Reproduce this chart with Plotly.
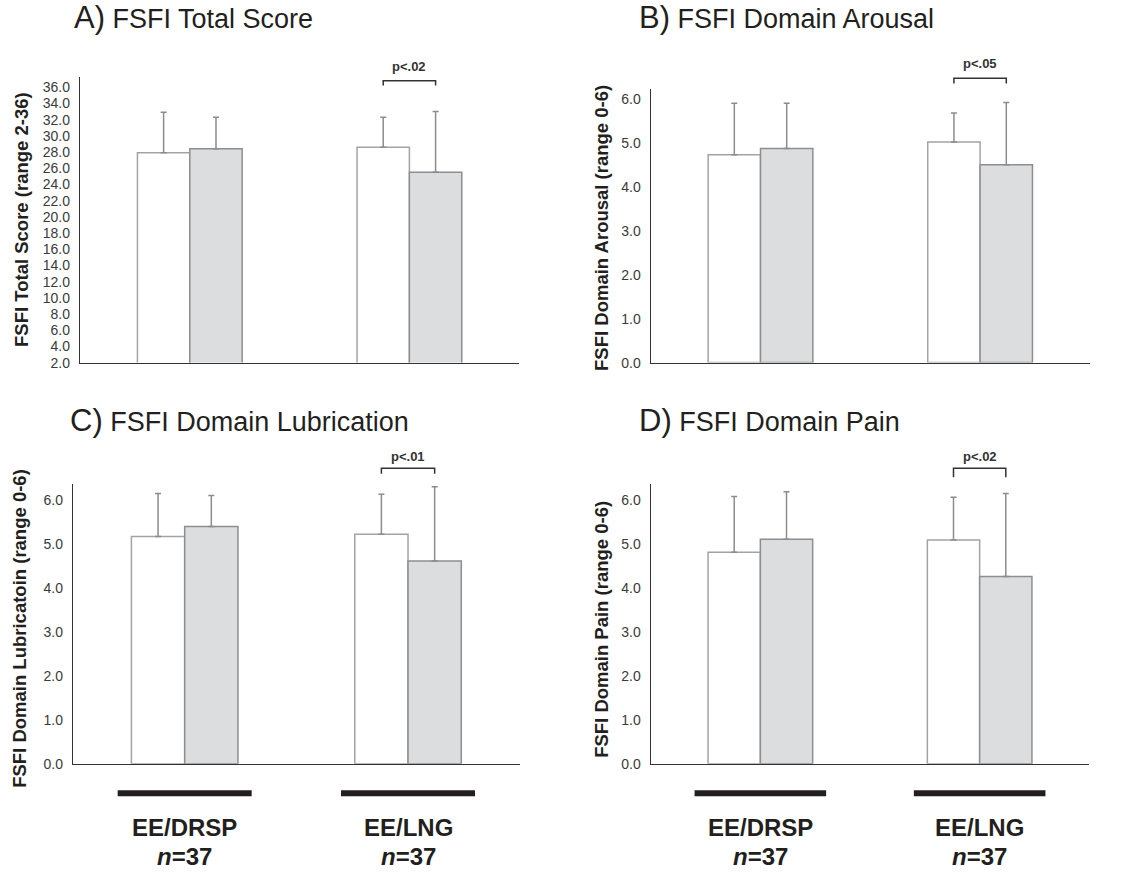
import plotly.graph_objects as go

W, H = 1130, 873

# ---------------- data ----------------
groups = ["EE/DRSP", "EE/LNG"]
group_n = ["37", "37"]

total_first = [27.9, 28.6]
total_second = [28.4, 25.5]
total_first_sd = [5.0, 3.7]
total_second_sd = [3.9, 7.5]

arousal_first = [4.74, 5.03]
arousal_second = [4.88, 4.51]
arousal_first_sd = [1.17, 0.66]
arousal_second_sd = [1.03, 1.42]

lubric_first = [5.17, 5.22]
lubric_second = [5.40, 4.61]
lubric_first_sd = [0.98, 0.91]
lubric_second_sd = [0.70, 1.69]

pain_first = [4.81, 5.09]
pain_second = [5.11, 4.26]
pain_first_sd = [1.27, 0.97]
pain_second_sd = [1.08, 1.89]

titles_letter = ["A)", "B)", "C)", "D)"]
titles_text = ["FSFI Total Score", "FSFI Domain Arousal",
               "FSFI Domain Lubrication", "FSFI Domain Pain"]
ytitles = ["FSFI Total Score (range 2-36)", "FSFI Domain Arousal (range 0-6)",
           "FSFI Domain Lubricatoin (range 0-6)", "FSFI Domain Pain (range 0-6)"]
pvalues = ["p<.02", "p<.05", "p<.01", "p<.02"]

total_ticks = list(range(2, 37, 2))
domain_ticks = [0, 1, 2, 3, 4, 5, 6]

# ---------------- layout geometry ----------------
FONT = "Liberation Sans, Arial, Helvetica, sans-serif"
TXT = "#231f20"
BARGAP = 0.523
YS = 1.009

def px_x(p):
    return p / W

def px_y(p):
    return 1 - p * YS / H

panels = [
    dict(data=(total_first, total_second, total_first_sd, total_second_sd),
         xd=(80, 519.2), yd=(76.7, 362.7), yr=(2, 37.3), ticks=total_ticks,
         title_xy=(72, 37), ytitle_xy=(22, 220), bracket_y=(36.2, 36.8), ptxt=38.6),
    dict(data=(arousal_first, arousal_second, arousal_first_sd, arousal_second_sd),
         xd=(650.7, 1089.9), yd=(89.3, 362.7), yr=(0, 6.23), ticks=domain_ticks,
         title_xy=(637, 37), ytitle_xy=(602, 228), bracket_y=(6.36, 6.48), ptxt=6.82),
    dict(data=(lubric_first, lubric_second, lubric_first_sd, lubric_second_sd),
         xd=(73, 519.7), yd=(484.3, 764), yr=(0, 6.36), ticks=domain_ticks,
         title_xy=(68, 440), ytitle_xy=(20, 629), bracket_y=(6.6, 6.72), ptxt=7.0),
    dict(data=(pain_first, pain_second, pain_first_sd, pain_second_sd),
         xd=(650.7, 1089.3), yd=(484.3, 764), yr=(0, 6.36), ticks=domain_ticks,
         title_xy=(637, 440), ytitle_xy=(602, 630), bracket_y=(6.52, 6.72), ptxt=6.98),
]

fig = go.Figure()
shapes = []
annotations = []

XR = (-0.5, 1.5)

for i, p in enumerate(panels):
    k = "" if i == 0 else str(i + 1)
    xa, ya = "x" + k, "y" + k
    first, second, sd1, sd2 = p["data"]
    fig.add_trace(go.Bar(
        x=[0, 1], y=first, xaxis=xa, yaxis=ya, showlegend=False,
        marker=dict(color="white", line=dict(color="#a3a3a3", width=1.5)),
        error_y=dict(type="data", array=sd1, arrayminus=[0, 0], symmetric=False,
                     color="#8c8c8c", thickness=1.5, width=3),
    ))
    fig.add_trace(go.Bar(
        x=[0, 1], y=second, xaxis=xa, yaxis=ya, showlegend=False,
        marker=dict(color="#dcdddf", line=dict(color="#8e8e8e", width=1.5)),
        error_y=dict(type="data", array=sd2, arrayminus=[0, 0], symmetric=False,
                     color="#8c8c8c", thickness=1.5, width=3),
    ))
    xd = [px_x(v) for v in p["xd"]]
    yd = [px_y(p["yd"][1]), px_y(p["yd"][0])]
    fig.layout["xaxis" + k] = dict(
        domain=xd, range=list(XR), anchor=ya, showticklabels=False, ticks="",
        showgrid=False, zeroline=False, showline=True, linecolor="#333333",
        linewidth=1.3, fixedrange=True)
    fig.layout["yaxis" + k] = dict(
        domain=yd, range=list(p["yr"]), anchor=xa, tickvals=p["ticks"],
        tickformat=".1f", ticks="", showgrid=False, zeroline=False,
        showline=True, linecolor="#333333", linewidth=1.3,
        tickfont=dict(family=FONT, size=14, color="#3a3a3a"),
        ticklabelstandoff=6, fixedrange=True)

    # data -> paper helpers for this panel
    def xp(v, xd=xd):
        return xd[0] + (v - XR[0]) / (XR[1] - XR[0]) * (xd[1] - xd[0])

    def yp(v, yd=yd, yr=p["yr"]):
        return yd[0] + (v - yr[0]) / (yr[1] - yr[0]) * (yd[1] - yd[0])

    bar_w = (1 - BARGAP) / 2
    c_left = 1 - bar_w / 2
    c_right = 1 + bar_w / 2
    y_lo, y_hi = p["bracket_y"]
    shapes.append(dict(
        type="path", xref="paper", yref="paper",
        path=f"M {xp(c_left)},{yp(y_lo)} L {xp(c_left)},{yp(y_hi)} "
             f"L {xp(c_right)},{yp(y_hi)} L {xp(c_right)},{yp(y_lo)}",
        line=dict(color="#333333", width=1.5)))
    annotations.append(dict(
        x=xp(1), y=yp(p["ptxt"]), xref="paper", yref="paper", text=f"<b>{pvalues[i]}</b>",
        showarrow=False, font=dict(family=FONT, size=13, color="#333333"),
        xanchor="center", yanchor="middle"))

    # panel title
    tx, ty = p["title_xy"]
    annotations.append(dict(
        x=px_x(tx), y=px_y(ty), xref="paper", yref="paper",
        text=f"<span style='font-size:31px'>{titles_letter[i]}</span> {titles_text[i]}",
        showarrow=False, font=dict(family=FONT, size=27, color=TXT),
        xanchor="left", yanchor="bottom"))

    # y title
    yx, yy = p["ytitle_xy"]
    annotations.append(dict(
        x=px_x(yx), y=px_y(yy), xref="paper", yref="paper",
        text=f"<b>{ytitles[i]}</b>", textangle=-90, showarrow=False,
        font=dict(family=FONT, size=18.5, color=TXT),
        xanchor="center", yanchor="middle"))

    # group bars and labels under bottom panels
    if i >= 2:
        for g in range(len(groups)):
            half = 0.3
            shapes.append(dict(
                type="line", xref="paper", yref="paper",
                x0=xp(g - half), x1=xp(g + half), y0=px_y(793.5), y1=px_y(793.5),
                line=dict(color=TXT, width=6)))
            annotations.append(dict(
                x=xp(g), y=px_y(828), xref="paper", yref="paper",
                text=f"<b>{groups[g]}</b>", showarrow=False,
                font=dict(family=FONT, size=24, color=TXT),
                xanchor="center", yanchor="middle"))
            annotations.append(dict(
                x=xp(g), y=px_y(857), xref="paper", yref="paper",
                text=f"<b><i>n</i>={group_n[g]}</b>", showarrow=False,
                font=dict(family=FONT, size=24, color=TXT),
                xanchor="center", yanchor="middle"))

fig.update_layout(
    width=W, height=H, margin=dict(l=0, r=0, t=0, b=0),
    paper_bgcolor="white", plot_bgcolor="white",
    barmode="group", bargap=BARGAP, bargroupgap=0,
    shapes=shapes, annotations=annotations,
    font=dict(family=FONT, color=TXT),
)

fig.write_html("out.html", config={"displayModeBar": False},
               post_script="document.body.style.margin='0';document.body.style.overflow='hidden';")
